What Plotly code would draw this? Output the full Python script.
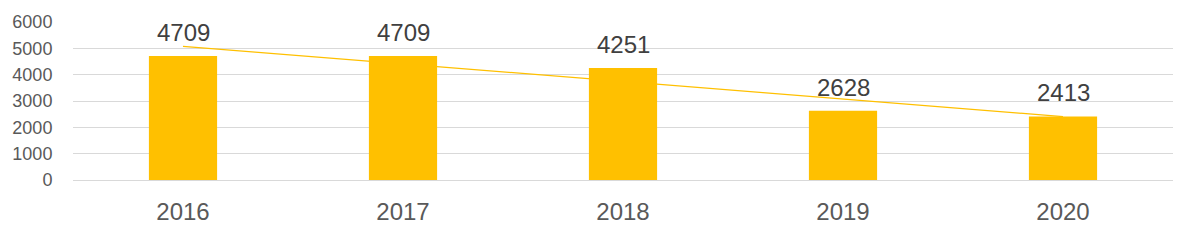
import numpy as np
import plotly.graph_objects as go

years = ["2016", "2017", "2018", "2019", "2020"]
values = [4709, 4709, 4251, 2628, 2413]
y_ticks = [0, 1000, 2000, 3000, 4000, 5000, 6000]

pos = list(range(len(years)))

# linear trendline (least squares) from the data
slope, intercept = np.polyfit(pos, values, 1)
trend = [slope * p + intercept for p in pos]

fig = go.Figure()
fig.add_trace(go.Bar(x=pos, y=values, marker=dict(color="#FFC000", line=dict(width=0)),
                     width=0.31, showlegend=False, hoverinfo="skip"))
fig.add_trace(go.Scatter(x=pos, y=trend, mode="lines", line=dict(color="#FFC000", width=1.2),
                         showlegend=False, hoverinfo="skip"))
for p, v in zip(pos, values):
    fig.add_annotation(x=p, y=v, text=str(v), showarrow=False, yanchor="bottom", yshift=8,
                       font=dict(size=24, color="#404040", family="Liberation Sans"))

fig.update_layout(
    width=1195, height=240, margin=dict(l=73, r=22, t=20, b=60),
    paper_bgcolor="white", plot_bgcolor="white",
    font=dict(family="Liberation Sans", color="#595959"),
)
fig.update_xaxes(range=[-0.5, len(years) - 0.5], tickvals=pos, ticktext=years,
                 showgrid=False, showline=False, zeroline=False,
                 ticks="outside", ticklen=10, tickcolor="rgba(0,0,0,0)",
                 tickfont=dict(size=24, color="#595959"))
fig.update_yaxes(range=[0, 6000], tickvals=y_ticks, showgrid=True, gridcolor="#D9D9D9", gridwidth=1,
                 zeroline=True, zerolinecolor="#D9D9D9", zerolinewidth=1, showline=False,
                 ticks="outside", ticklen=16, tickcolor="rgba(0,0,0,0)",
                 tickfont=dict(size=18, color="#595959"))
fig.write_html("out.html")
